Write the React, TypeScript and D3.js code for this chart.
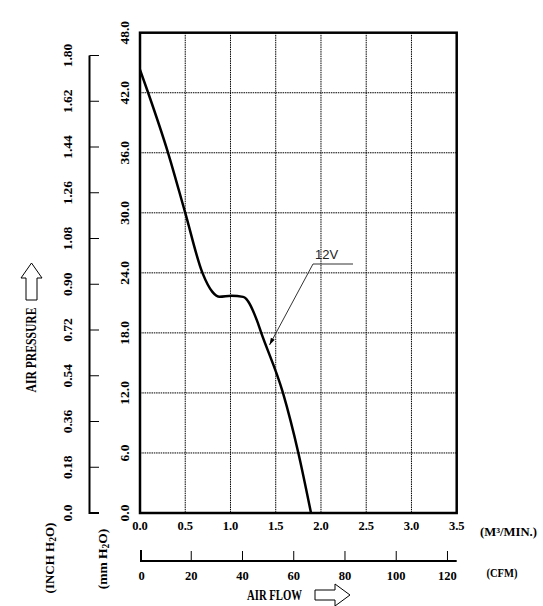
import React from "react";
import * as d3 from "d3";

const flowTicks = [0, 0.5, 1.0, 1.5, 2.0, 2.5, 3.0, 3.5];
const mmTicks = [0, 6, 12, 18, 24, 30, 36, 42, 48];
const inchTicks = [0, 0.18, 0.36, 0.54, 0.72, 0.9, 1.08, 1.26, 1.44, 1.62, 1.8];
const inchLabels = ["0.0", "0.18", "0.36", "0.54", "0.72", "0.90", "1.08", "1.26", "1.44", "1.62", "1.80"];
const cfmTicks = [0, 20, 40, 60, 80, 100, 120];

const curveFlow = [0.0, 0.09, 0.31, 0.5, 0.69, 0.8, 0.88, 1.01, 1.14, 1.29, 1.34, 1.58, 1.75, 1.89];
const curveMm = [44.3, 42.0, 36.0, 30.0, 24.0, 22.1, 21.6, 21.7, 21.6, 19.3, 18.0, 12.0, 6.0, 0.0];

const MM_PER_INCH = 25.4;
const M3MIN_PER_CFM = 0.0283168;

const FONT = "'Liberation Serif', 'Times New Roman', serif";

export default function App() {
  const x = d3.scaleLinear().domain([0, 3.5]).range([140, 456.7]);
  const y = d3.scaleLinear().domain([0, 48]).range([513, 32.7]);

  const pts: [number, number][] = curveFlow.map((f, i) => [f, curveMm[i]]);
  const line = d3
    .line<[number, number]>()
    .x((d) => x(d[0]))
    .y((d) => y(d[1]))
    .curve(d3.curveMonotoneX);

  const inchAxisX = 89.5;
  const cfmAxisY = 561;

  // leader line for 12V label
  const tip: [number, number] = [269.5, 345];
  const elbow: [number, number] = [313, 264];
  const ang = Math.atan2(tip[1] - elbow[1], tip[0] - elbow[0]);
  const aL = 7;
  const aW = 2.2;
  const bx = tip[0] - aL * Math.cos(ang);
  const by = tip[1] - aL * Math.sin(ang);
  const arrowHead = [
    [tip[0], tip[1]],
    [bx + aW * Math.sin(ang), by - aW * Math.cos(ang)],
    [bx - aW * Math.sin(ang), by + aW * Math.cos(ang)],
  ]
    .map((p) => p.join(","))
    .join(" ");

  return (
    <svg
      width={543}
      height={606}
      style={{ position: "absolute", left: 0, top: 0, background: "#fff" }}
    >
      <rect x={0} y={0} width={543} height={606} fill="#fff" />
      {/* grid */}
      <g stroke="#000" strokeWidth={1} strokeDasharray="1.5,0.8">
        {flowTicks.slice(1, -1).map((f) => (
          <line key={"gx" + f} x1={x(f)} x2={x(f)} y1={y(48)} y2={y(0)} />
        ))}
        {mmTicks.slice(1, -1).map((m) => (
          <line key={"gy" + m} x1={x(0)} x2={x(3.5)} y1={y(m)} y2={y(m)} />
        ))}
      </g>
      {/* frame */}
      <rect
        x={x(0)}
        y={y(48)}
        width={x(3.5) - x(0)}
        height={y(0) - y(48)}
        fill="none"
        stroke="#000"
        strokeWidth={2.5}
      />
      {/* curve */}
      <path d={line(pts) || ""} fill="none" stroke="#000" strokeWidth={2.5} />

      {/* 12V leader */}
      <polyline
        points={`353,264 ${elbow.join(",")} ${tip.join(",")}`}
        fill="none"
        stroke="#333"
        strokeWidth={1}
      />
      <polygon points={arrowHead} fill="#000" />
      <text
        x={315}
        y={259}
        fontFamily="'Liberation Sans', Arial, sans-serif"
        fontSize={13}
        fill="#222"
      >
        12V
      </text>

      {/* mm axis labels */}
      {mmTicks.map((m) => (
        <text
          key={"mm" + m}
          transform={`translate(124,${y(m)}) rotate(-90)`}
          textAnchor="middle"
          dominantBaseline="central"
          fontFamily={FONT}
          fontWeight="bold"
          fontSize={13.5}
        >
          {m.toFixed(1)}
        </text>
      ))}

      {/* inch axis */}
      <line
        x1={inchAxisX}
        x2={inchAxisX}
        y1={y(inchTicks[inchTicks.length - 1] * MM_PER_INCH)}
        y2={y(0) + 1}
        stroke="#000"
        strokeWidth={2}
      />
      {inchTicks.map((t, i) => (
        <g key={"in" + t}>
          <line
            x1={inchAxisX}
            x2={99}
            y1={y(t * MM_PER_INCH)}
            y2={y(t * MM_PER_INCH)}
            stroke="#000"
            strokeWidth={i === 0 ? 2 : 1}
          />
          <text
            transform={`translate(67.5,${y(t * MM_PER_INCH)}) rotate(-90)`}
            textAnchor="middle"
            dominantBaseline="central"
            fontFamily={FONT}
            fontWeight="bold"
            fontSize={13.5}
          >
            {inchLabels[i]}
          </text>
        </g>
      ))}

      {/* AIR PRESSURE label and arrow */}
      <text
        transform="translate(31,350) rotate(-90)"
        textAnchor="middle"
        dominantBaseline="central"
        fontFamily={FONT}
        fontWeight="bold"
        fontSize={14}
        textLength={85}
        lengthAdjust="spacingAndGlyphs"
      >
        AIR PRESSURE
      </text>
      <polygon
        points="31.5,263 21,278 26,278 26,300 37,300 37,278 42,278"
        fill="#fff"
        stroke="#000"
        strokeWidth={1}
      />

      {/* unit labels, vertical */}
      <text
        transform="translate(49,558) rotate(-90)"
        textAnchor="middle"
        dominantBaseline="central"
        fontFamily={FONT}
        fontWeight="bold"
        fontSize={13}
      >
        (INCH H
        <tspan fontSize={9.5} dy={4}>
          2
        </tspan>
        <tspan dy={-4}>O)</tspan>
      </text>
      <text
        transform="translate(102,559) rotate(-90)"
        textAnchor="middle"
        dominantBaseline="central"
        fontFamily={FONT}
        fontWeight="bold"
        fontSize={13.5}
      >
        (mm H
        <tspan fontSize={9.5} dy={4}>
          2
        </tspan>
        <tspan dy={-4}>O)</tspan>
      </text>

      {/* flow tick labels */}
      {flowTicks.map((f) => (
        <text
          key={"fx" + f}
          x={x(f)}
          y={530}
          textAnchor="middle"
          fontFamily={FONT}
          fontWeight="bold"
          fontSize={12.5}
        >
          {f.toFixed(1)}
        </text>
      ))}
      <text x={480} y={536} fontFamily={FONT} fontWeight="bold" fontSize={12.5} textLength={57} lengthAdjust="spacingAndGlyphs">
        (M³/MIN.)
      </text>

      {/* CFM axis */}
      <line
        x1={x(0)}
        x2={x(3.5)}
        y1={cfmAxisY}
        y2={cfmAxisY}
        stroke="#000"
        strokeWidth={2}
      />
      {cfmTicks.map((c, i) => (
        <g key={"cfm" + c}>
          <line
            x1={x(c * M3MIN_PER_CFM) + (i === 0 ? 1 : 0)}
            x2={x(c * M3MIN_PER_CFM) + (i === 0 ? 1 : 0)}
            y1={i === 0 ? 550 : 551}
            y2={cfmAxisY}
            stroke="#000"
            strokeWidth={i === 0 ? 2 : 1}
          />
          <text
            x={x(c * M3MIN_PER_CFM) + (i === 0 ? 1.5 : 0)}
            y={579.5}
            textAnchor="middle"
            fontFamily={FONT}
            fontWeight="bold"
            fontSize={12.5}
          >
            {c}
          </text>
        </g>
      ))}
      <text x={486.5} y={577} fontFamily={FONT} fontWeight="bold" fontSize={12.5} textLength={31} lengthAdjust="spacingAndGlyphs">
        (CFM)
      </text>

      {/* AIR FLOW label and arrow */}
      <text
        x={247}
        y={599.5}
        fontFamily={FONT}
        fontWeight="bold"
        fontSize={14}
        textLength={55}
        lengthAdjust="spacingAndGlyphs"
      >
        AIR FLOW
      </text>
      <polygon
        points="315,590 335,590 335,584 350,595 335,606 335,600 315,600"
        fill="#fff"
        stroke="#000"
        strokeWidth={1}
      />
    </svg>
  );
}
